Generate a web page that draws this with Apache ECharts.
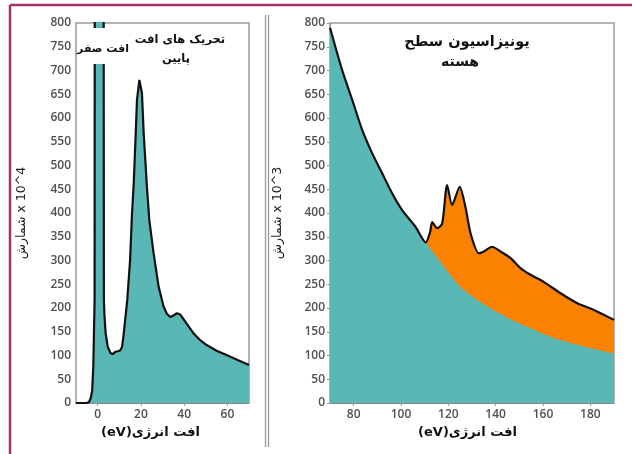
<!DOCTYPE html>
<html>
<head>
<meta charset="utf-8">
<script src="https://cdn.jsdelivr.net/npm/echarts@6.0.0/dist/echarts.min.js"></script>
<style>
html,body{margin:0;padding:0;background:#fff;}
#chart{width:632px;height:454px;}
</style>
</head>
<body>
<div id="chart"></div>
<script>
// ---- Data ----
// Left panel: low-loss spectrum (energy loss eV, counts x10^4)
const lowLossE = [-10, -5, -4, -3.2, -2.5, -2, -1.7, -1.4, -1.2, 2.6, 2.9, 3.2, 3.7, 4.7, 6, 7, 8.3, 10.3, 11.3, 12.1, 12.9, 13.7, 15, 15.9, 16.7, 17.5, 18.2, 19.3, 20.5, 21.3, 22.8, 23.9, 25.9, 28.2, 30.5, 32, 33.6, 35, 36.6, 38, 38.9, 41, 44.3, 47, 50.4, 55, 59.6, 65, 70];
const lowLossCounts = [0, 0, 2, 10, 27, 76, 147, 217, 2000, 2000, 217, 182, 147, 118, 105, 103, 108, 110, 118, 147, 182, 217, 300, 399, 462, 554, 638, 680, 652, 568, 455, 385, 315, 245, 203, 188, 181, 184, 189, 187, 182, 168, 147, 134, 122, 110, 101, 90, 80];

// Right panel: core-loss spectrum (counts x10^3)
const coreE = [70, 75, 79.4, 83.6, 87.8, 92, 96.3, 100.5, 106.1, 110.5, 112.3, 113.2, 115.3, 117.4, 119.5, 121.6, 124.8, 127.2, 129.4, 132.9, 135, 138.5, 142, 146.3, 150.5, 154.7, 160.3, 167.4, 174.5, 181.5, 190];
const coreTotal = [790, 703, 638, 575, 526, 484, 441, 406, 371, 338, 360, 381, 368, 378, 459, 417, 455, 413, 357, 315, 319, 329, 319, 305, 284, 270, 255, 231, 210, 196, 175];
const bgE = [70, 75, 79.4, 83.6, 87.8, 92, 96.3, 100.5, 106.1, 110.5, 115, 120, 125, 132, 139, 146, 153, 160, 167, 175, 182, 190];
const bgCounts = [790, 703, 638, 575, 526, 484, 441, 406, 371, 338, 308, 275, 245, 218, 196, 177, 161, 146, 133, 122, 113, 104];

// Tick labels
const lowLossTicks = [0, 20, 40, 60];
const coreTicks = [80, 100, 120, 140, 160, 180];

// Texts
const xName = '(eV)افت انرژی';
const yNameLeft = 'شمارش x 10^4';
const yNameRight = 'شمارش x 10^3';
const zeroLossLabel = 'افت صفر';
const lowLossLabel1 = 'تحریک های افت';
const lowLossLabel2 = 'پایین';
const coreLabel1 = 'یونیزاسیون سطح';
const coreLabel2 = 'هسته';

// ---- Build ----
const zip = (a, b) => a.map((v, i) => [v, b[i]]);
const TEAL = '#59b8b6';
const ORANGE = '#fb8200';
const LINE = '#111';
const AR = "'DejaVu Sans', sans-serif";
const SM = 0.25;

const axisLabelStyle = {fontFamily: "'Open Sans', sans-serif", fontSize: 12, color: '#505050', fontWeight: 600};

function yAxis(grid, name) {
  return {
    type: 'value', gridIndex: grid, min: 0, max: 800, interval: 50,
    axisLine: {show: true, lineStyle: {color: '#999', width: 1.2}},
    axisTick: {show: true, length: 3, lineStyle: {color: '#999'}},
    axisLabel: Object.assign({margin: 5}, axisLabelStyle),
    splitLine: {show: false},
    name: name, nameLocation: 'middle', nameRotate: 90, nameGap: grid === 0 ? 48 : 46,
    nameTextStyle: {fontFamily: AR, fontSize: 12.5, color: '#222'}
  };
}
function xAxis(grid, min, max, ticks, padR) {
  return {
    type: 'value', gridIndex: grid, min: min, max: max,
    axisLine: {show: true, onZero: false, lineStyle: {color: '#888', width: 1.2}},
    axisTick: {show: true, length: 3, customValues: ticks, lineStyle: {color: '#999'}},
    axisLabel: Object.assign({margin: 6, customValues: ticks}, axisLabelStyle),
    splitLine: {show: false},
    name: xName, nameLocation: 'middle', nameGap: 22,
    nameTextStyle: {fontFamily: AR, fontWeight: 'bold', fontSize: 13, color: '#111', padding: [0, padR, 0, 0]}
  };
}

const chart = echarts.init(document.getElementById('chart'), null, {renderer: 'canvas'});
chart.setOption({
  animation: false,
  backgroundColor: '#fff',
  grid: [
    {left: 76, top: 23, width: 173, height: 380, show: true, borderColor: '#9a9a9a', borderWidth: 1.5},
    {left: 330, top: 23, width: 284, height: 380, show: true, borderColor: '#9a9a9a', borderWidth: 1.5}
  ],
  xAxis: [xAxis(0, -10, 70, lowLossTicks, 24), xAxis(1, 70, 190, coreTicks, 9)],
  yAxis: [yAxis(0, yNameLeft), yAxis(1, yNameRight)],
  series: [
    {type: 'line', xAxisIndex: 0, yAxisIndex: 0, data: zip(lowLossE, lowLossCounts), showSymbol: false,
     clip: true, lineStyle: {color: LINE, width: 2.2}, areaStyle: {color: TEAL, opacity: 1}, z: 2},
    {type: 'line', xAxisIndex: 1, yAxisIndex: 1, data: zip(coreE, coreTotal), showSymbol: false, smooth: SM,
     lineStyle: {width: 0}, areaStyle: {color: ORANGE, opacity: 1}, z: 2},
    {type: 'line', xAxisIndex: 1, yAxisIndex: 1, data: zip(bgE, bgCounts), showSymbol: false, smooth: SM,
     lineStyle: {width: 0}, areaStyle: {color: TEAL, opacity: 1}, z: 3},
    {type: 'line', xAxisIndex: 1, yAxisIndex: 1, data: zip(coreE, coreTotal), showSymbol: false, smooth: SM,
     lineStyle: {color: LINE, width: 2.2}, z: 4}
  ],
  graphic: [
    {type: 'line', shape: {x1: 10, y1: 5, x2: 632, y2: 5}, style: {stroke: '#a3326c', lineWidth: 2.5}, z: 100},
    {type: 'line', shape: {x1: 10, y1: 5, x2: 10, y2: 454}, style: {stroke: '#a3326c', lineWidth: 2.5}, z: 100},
    {type: 'line', shape: {x1: 265.5, y1: 15, x2: 265.5, y2: 447}, style: {stroke: '#9a9a9a', lineWidth: 1.3}, z: 100},
    {type: 'line', shape: {x1: 268.5, y1: 15, x2: 268.5, y2: 447}, style: {stroke: '#9a9a9a', lineWidth: 1.3}, z: 100},
    {type: 'rect', shape: {x: 79, y: 28, width: 48, height: 36}, style: {fill: '#fff'}, z: 100},
    {type: 'text', x: 103, y: 49, style: {text: zeroLossLabel, fontFamily: AR, fontWeight: 'bold', fontSize: 11, fill: '#111', align: 'center', verticalAlign: 'middle'}, z: 101},
    {type: 'text', x: 180, y: 40, style: {text: lowLossLabel1, fontFamily: AR, fontWeight: 'bold', fontSize: 11.5, fill: '#111', align: 'center', verticalAlign: 'middle'}, z: 101},
    {type: 'text', x: 176, y: 59, style: {text: lowLossLabel2, fontFamily: AR, fontWeight: 'bold', fontSize: 11.5, fill: '#111', align: 'center', verticalAlign: 'middle'}, z: 101},
    {type: 'text', x: 467, y: 42, style: {text: coreLabel1, fontFamily: AR, fontWeight: 'bold', fontSize: 14.5, fill: '#111', align: 'center', verticalAlign: 'middle'}, z: 101},
    {type: 'text', x: 460, y: 62, style: {text: coreLabel2, fontFamily: AR, fontWeight: 'bold', fontSize: 14, fill: '#111', align: 'center', verticalAlign: 'middle'}, z: 101}
  ]
});
</script>
</body>
</html>
